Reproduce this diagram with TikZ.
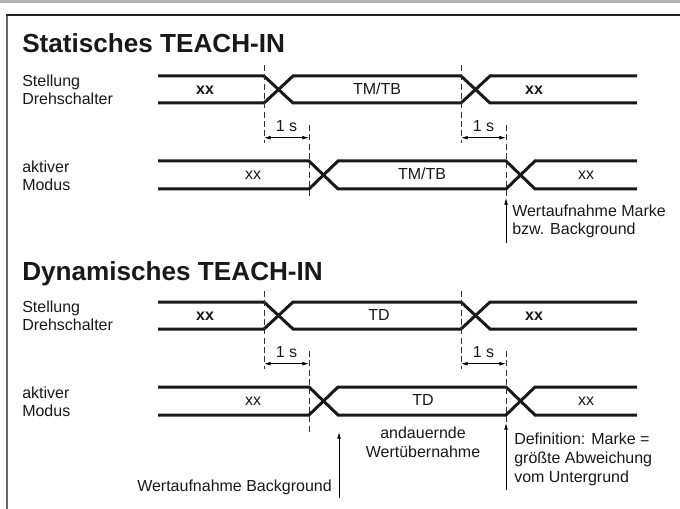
\documentclass[tikz,border=0pt]{standalone}
\usepackage{fontspec}
\setmainfont{Liberation Sans}
\usetikzlibrary{arrows.meta}
\begin{document}
\fontsize{12}{14}\selectfont
\begin{tikzpicture}[
   x=0.75pt,y=-0.75pt,
   every node/.style={inner sep=0pt,text=black!90},
   heading/.style={anchor=base west,font=\fontsize{19.6}{22}\selectfont\bfseries},
   rowlabel/.style={anchor=north west,align=left},
   val/.style={anchor=base},
   valb/.style={anchor=base,font=\bfseries},
   bus/.style={line width=2.25pt,black!90},
   guide/.style={thin,black!80,dash pattern=on 4.5pt off 2.5pt},
   spanarrow/.style={{Latex[length=5pt,width=2.8pt]}-{Latex[length=5pt,width=2.8pt]},semithick},
   pointer/.style={-{Latex[length=5pt,width=2.8pt]},semithick}]
\useasboundingbox (0,0) rectangle (680,509);
% frame
\fill[black!30] (0,0) rectangle (680,3.3);
\draw[black!60,line width=1.5pt] (7,509) -- (7,15);
\draw[black!85,line width=1.5pt] (6.25,15) -- (680,15);

% statisches teach-in
\node[heading] (Statisch) at (22,53) {Statisches TEACH-IN};
\node[rowlabel] (StellungS) at (22,74.3) {Stellung\\Drehschalter};
\node[rowlabel] (ModusS) at (22,160.3) {aktiver\\Modus};
\draw[bus] (158,76) -- (264,76) -- (293,103) -- (461,103) -- (490,76) -- (637,76);
\draw[bus] (158,103) -- (264,103) -- (293,76) -- (461,76) -- (490,103) -- (637,103);
\draw[bus] (158,161) -- (309,161) -- (338,189) -- (506,189) -- (535,161) -- (637,161);
\draw[bus] (158,189) -- (309,189) -- (338,161) -- (506,161) -- (535,189) -- (637,189);
\node[valb] (xxS1) at (205,94.5) {xx};
\node[val] (TMTBS1) at (377,94.5) {TM/TB};
\node[valb] (xxS2) at (534,94.5) {xx};
\node[val] (xxS3) at (253,179.5) {xx};
\node[val] (TMTBS2) at (422,179.5) {TM/TB};
\node[val] (xxS4) at (586,179.5) {xx};
\draw[guide] (264,65) -- (264,143);
\draw[guide] (309,125) -- (309,198);
\draw[guide] (461,65) -- (461,143);
\draw[guide] (506,125) -- (506,198);
\coordinate (aS1) at (264,137.7);
\coordinate (bS1) at (309,137.7);
\coordinate (aS2) at (461,137.7);
\coordinate (bS2) at (506,137.7);
\draw[spanarrow] (aS1) -- node[above=4.3pt] (sekS1) {1 s} (bS1);
\draw[spanarrow] (aS2) -- node[above=4.3pt] (sekS2) {1 s} (bS2);
\coordinate (MarkeS) at (506,198);
\coordinate (MarkeSfuss) at (506,243);
\draw[pointer] (MarkeSfuss) -- (MarkeS);
\node[rowlabel] (MarkeStext) at (512,204.3) {Wertaufnahme Marke\\bzw. Background};

% dynamisches teach-in
\node[heading] (Dynamisch) at (22,280) {Dynamisches TEACH-IN};
\node[rowlabel] (StellungD) at (22,300.3) {Stellung\\Drehschalter};
\node[rowlabel] (ModusD) at (22,386.3) {aktiver\\Modus};
\draw[bus] (158,302) -- (264,302) -- (293,329) -- (461,329) -- (490,302) -- (637,302);
\draw[bus] (158,329) -- (264,329) -- (293,302) -- (461,302) -- (490,329) -- (637,329);
\draw[bus] (158,387) -- (309,387) -- (338,415) -- (506,415) -- (535,387) -- (637,387);
\draw[bus] (158,415) -- (309,415) -- (338,387) -- (506,387) -- (535,415) -- (637,415);
\node[valb] (xxD1) at (205,320.5) {xx};
\node[val] (TDD1) at (379,320.5) {TD};
\node[valb] (xxD2) at (534,320.5) {xx};
\node[val] (xxD3) at (253,405.5) {xx};
\node[val] (TDD2) at (423,405.5) {TD};
\node[val] (xxD4) at (586,405.5) {xx};
\draw[guide] (264,291) -- (264,369);
\draw[guide] (309,351) -- (309,433);
\draw[guide] (461,291) -- (461,369);
\draw[guide] (506,351) -- (506,428);
\coordinate (aD1) at (264,363.7);
\coordinate (bD1) at (309,363.7);
\coordinate (aD2) at (461,363.7);
\coordinate (bD2) at (506,363.7);
\draw[spanarrow] (aD1) -- node[above=4.3pt] (sekD1) {1 s} (bD1);
\draw[spanarrow] (aD2) -- node[above=4.3pt] (sekD2) {1 s} (bD2);
\coordinate (Back) at (339,432);
\coordinate (Backfuss) at (339,498);
\draw[pointer] (Backfuss) -- (Back);
\node[anchor=base east] (Backtext) at (332,491.5) {Wertaufnahme Background};
\node[anchor=north,align=center] (Dauer) at (423,427.1) {andauernde\\Wertübernahme};
\coordinate (MarkeD) at (506,423);
\coordinate (MarkeDfuss) at (506,490);
\draw[pointer] (MarkeDfuss) -- (MarkeD);
\node[rowlabel] (MarkeDtext) at (514,433.1) {Definition: Marke =\\größte Abweichung\\vom Untergrund};
\end{tikzpicture}
\end{document}
